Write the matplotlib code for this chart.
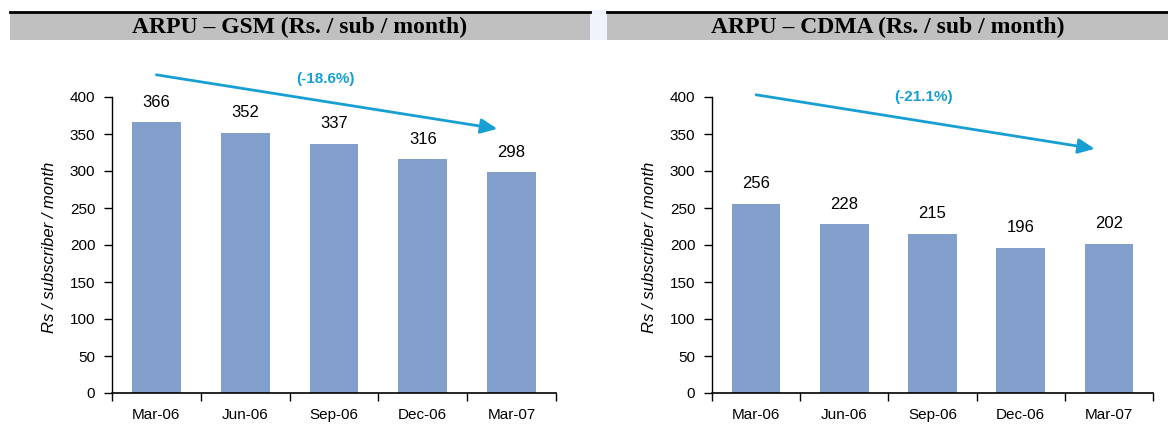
import matplotlib
matplotlib.use("Agg")
import matplotlib.pyplot as plt
import numpy as np
from matplotlib.patches import Rectangle

categories = ["Mar-06", "Jun-06", "Sep-06", "Dec-06", "Mar-07"]
gsm_values = [366, 352, 337, 316, 298]
cdma_values = [256, 228, 215, 196, 202]
gsm_title = "ARPU \u2013 GSM (Rs. / sub / month)"
cdma_title = "ARPU \u2013 CDMA (Rs. / sub / month)"
gsm_change = "(-18.6%)"
cdma_change = "(-21.1%)"
ylabel = "Rs / subscriber / month"
yticks = [0, 50, 100, 150, 200, 250, 300, 350, 400]

W, H = 1168, 425
fig = plt.figure(figsize=(W / 100, H / 100), dpi=100)
plt.rcParams['font.family'] = ['Liberation Sans', 'DejaVu Sans']

BAR = "#829FCB"
ARROW = "#179FD3"

# header bands
def header(x0, x1, text):
    fig.patches.append(Rectangle((x0 / W, 1 - 40 / H), (x1 - x0) / W, 28 / H,
                                 transform=fig.transFigure, facecolor="#C0C0C0",
                                 edgecolor="none", zorder=0))
    fig.lines.append(plt.Line2D([x0 / W, x1 / W], [1 - 11.5 / H, 1 - 11.5 / H],
                                transform=fig.transFigure, color="black", lw=2))
    fig.text((x0 + x1) / 2 / W, 1 - 27 / H, text, ha="center", va="center",
             family="Liberation Serif", fontweight="bold", fontsize=17)

fig.patches.append(Rectangle((590 / W, 1 - 40 / H), 17 / W, 30 / H,
                             transform=fig.transFigure, facecolor="#EEF3FC",
                             edgecolor="none", zorder=0))
header(10, 590, gsm_title)
header(607, 1168, cdma_title)

def panel(left_px, width_px, values, change, arrow_y, text_y, ylabel_x):
    ax = fig.add_axes([left_px / W, 1 - 393 / H, width_px / W, 296 / H])
    x = np.arange(len(categories))
    ax.bar(x, values, width=0.55, color=BAR, edgecolor="none", zorder=2)
    ax.set_xlim(-0.5, len(categories) - 0.5)
    ax.set_ylim(0, 400)
    ax.set_yticks(yticks)
    ax.tick_params(axis="y", direction="out", length=6, width=1, labelsize=11, pad=6)
    ax.set_xticks(np.arange(len(categories) + 1) - 0.5)
    ax.set_xticklabels([])
    ax.set_xticks(x, minor=True)
    ax.set_xticklabels(categories, minor=True, fontsize=11)
    ax.tick_params(axis="x", which="major", direction="out", length=6, width=1)
    ax.tick_params(axis="x", which="minor", length=0, pad=11)
    for s in ["top", "right"]:
        ax.spines[s].set_visible(False)
    ax.spines["left"].set_linewidth(1)
    ax.spines["bottom"].set_linewidth(1.2)
    for xi, v in zip(x, values):
        ax.text(xi, v + 17, str(v), ha="center", va="bottom", fontsize=12)
    ax.annotate("", xy=(3.84, arrow_y[1]), xytext=(0.0, arrow_y[0]),
                xycoords="data", annotation_clip=False,
                arrowprops=dict(arrowstyle="-|>,head_length=1.0,head_width=0.45",
                                color=ARROW, lw=2, shrinkA=0, shrinkB=0))
    ax.text(1.9, text_y, change, ha="center", va="center", color=ARROW,
            fontsize=11, fontweight="bold", clip_on=False)
    fig.text(ylabel_x / W, 1 - 247 / H, ylabel, rotation=90, ha="center",
             va="center", fontsize=12, style="italic")
    return ax

panel(112, 444, gsm_values, gsm_change, (430, 357), 425, 50)
panel(712, 441, cdma_values, cdma_change, (403, 330), 400, 650)

fig.savefig("out.png", dpi=100)
